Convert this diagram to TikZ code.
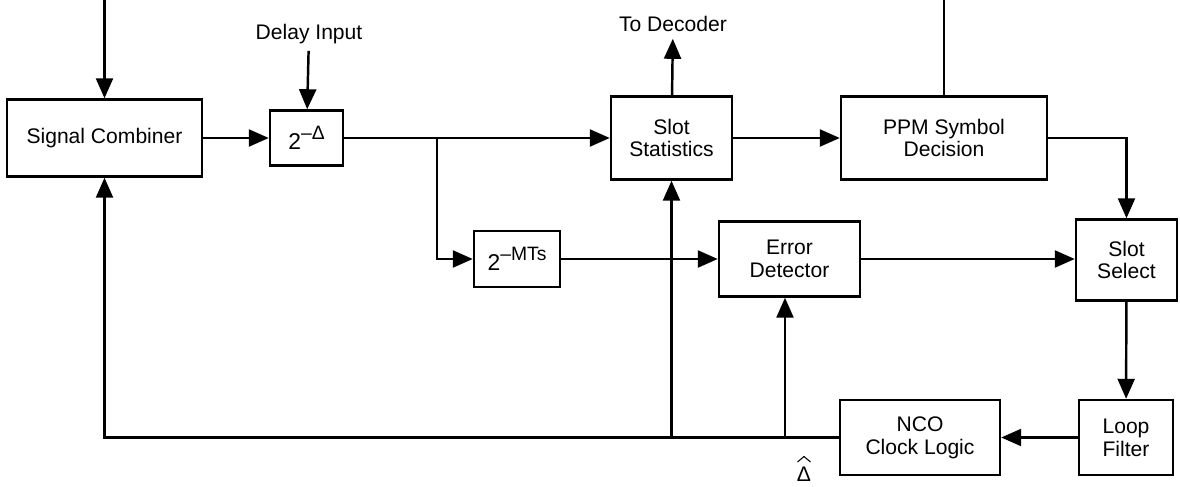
\documentclass[tikz,border=0pt]{standalone}
\usepackage{fontspec}
\setmainfont{Liberation Sans}
\usetikzlibrary{arrows.meta}

\newcommand{\powtwo}[1]{{\fontsize{13}{13}\selectfont 2\raisebox{0.45em}{\fontsize{11}{11}\selectfont #1}}}

\begin{document}
\begin{tikzpicture}[font=\fontsize{12}{13}\selectfont, line width=1.4pt,
  blk/.style={draw, align=center, inner sep=0pt},
  arr/.style={-{Triangle[length=4mm,width=3.4mm]}}]
\useasboundingbox (0,0) rectangle (23.6,9.72);
\node (comb) at (2.09,6.96) [blk, minimum width=3.9cm, minimum height=1.54cm] {Signal Combiner};
\node (dly) at (6.13,6.96) [blk, minimum width=1.46cm, minimum height=1.1cm] {\powtwo{–Δ}};
\node (stat) at (13.43,6.96) [blk, minimum width=2.42cm, minimum height=1.66cm] {Slot\\Statistics};
\node (ppm) at (18.88,6.96) [blk, minimum width=4.12cm, minimum height=1.66cm] {PPM Symbol\\Decision};
\node (mts) at (10.34,4.54) [blk, minimum width=1.72cm, minimum height=1.12cm] {\powtwo{–MTs}};
\node (err) at (15.79,4.54) [blk, minimum width=2.82cm, minimum height=1.5cm] {Error\\Detector};
\node (sel) at (22.53,4.52) [blk, minimum width=2.02cm, minimum height=1.62cm] {Slot\\Select};
\node (loop) at (22.52,0.97) [blk, minimum width=1.88cm, minimum height=1.5cm] {Loop\\Filter};
\node (nco) at (18.4,0.97) [blk, minimum width=3.2cm, minimum height=1.5cm] {NCO\\Clock Logic};
\node (dlyin) at (6.18,9.04) {Delay Input};
\node (dec) at (13.46,9.24) {To Decoder};
\node (dhat) at (16.08,0.4) [anchor=north, inner sep=0pt] {Δ};
\draw[line width=0.6pt] ([shift={(-0.13,0.08)}]dhat.north) -- ++(0.13,0.11) -- ++(0.13,-0.11);
\coordinate (combin) at (2.09,9.72);
\coordinate (ppmout) at (18.88,9.72);
\coordinate (tap1) at (8.74,6.96);
\coordinate (tap2) at (15.7,0.97);
\draw[arr] (combin) -- (comb);
\draw[arr] (dlyin) -- (dly);
\draw[arr] (stat) -- (dec);
\draw (ppm) -- (ppmout);
\draw[arr] (comb) -- (dly);
\draw[arr] (dly) -- (stat);
\draw[arr] (tap1) |- (mts);
\draw[arr] (mts.east) -- (mts.east -| err.west);
\draw[arr] (stat) -- (ppm);
\draw[arr] (ppm.east) -| (sel);
\draw[arr] (err.east) -- (err.east -| sel.west);
\draw[arr] (sel) -- (loop);
\draw[arr] (loop) -- (nco);
\draw[arr] (nco.west) -| (comb);
\draw[arr] (stat |- nco.west) -- (stat);
\draw[arr] (tap2) -- (tap2 |- err.south);
\end{tikzpicture}
\end{document}
